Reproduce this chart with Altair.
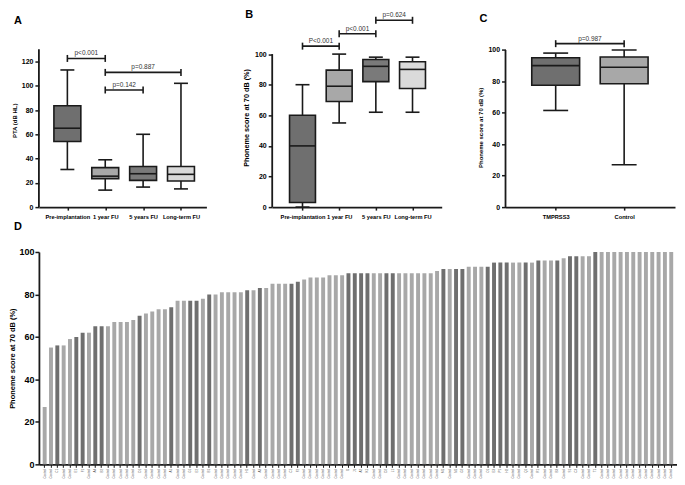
import altair as alt
import pandas as pd

FONT = "Liberation Sans"

# ---------------- Panel A : PTA (dB HL) ----------------
a_groups = ["Pre-implantation", "1 year FU", "5 years FU", "Long-term FU"]
a_min = [31, 14, 16.5, 15]
a_q1 = [54, 23.5, 22, 21.5]
a_med = [65, 25.5, 27.5, 27]
a_q3 = [83.5, 32.5, 33.5, 33.5]
a_max = [113, 39, 60, 102]
a_cmp_from = [0, 1, 1]
a_cmp_to = [1, 3, 2]
a_cmp_y = [122.5, 111, 96.5]
a_cmp_p = ["p<0.001", "p=0.887", "p=0.142"]

# ---------------- Panel B : phoneme score over time ----------------
b_groups = ["Pre-implantation", "1 year FU", "5 years FU", "Long-term FU"]
b_min = [0, 55, 62, 62]
b_q1 = [3, 69, 82, 77.5]
b_med = [40, 79, 92, 90]
b_q3 = [60, 89.5, 96.5, 95]
b_max = [80, 100, 98, 98]
b_cmp_from = [0, 1, 2]
b_cmp_to = [1, 2, 3]
b_cmp_y = [105.2, 113.3, 122.1]
b_cmp_p = ["P<0.001", "p<0.001", "p=0.624"]

# ---------------- Panel C : TMPRSS3 vs Control ----------------
c_groups = ["TMPRSS3", "Control"]
c_min = [61.5, 27]
c_q1 = [77.5, 78.5]
c_med = [90, 89]
c_q3 = [95, 95.5]
c_max = [98, 100]
c_cmp_from = [0]
c_cmp_to = [1]
c_cmp_y = [104]
c_cmp_p = ["p=0.987"]

# ---------------- Panel D : individual scores ----------------
d_values = [27, 55, 56, 56, 59, 60, 62, 62, 65, 65,
            65, 67, 67, 67, 68, 70, 71, 72, 73, 73,
            74, 77, 77, 77, 77, 78, 80, 80, 81, 81,
            81, 81, 82, 82, 83, 83, 85, 85, 85, 85,
            86, 87, 88, 88, 88, 89, 89, 89, 90, 90,
            90, 90, 90, 90, 90, 90, 90, 90, 90, 90,
            90, 90, 91, 92, 92, 92, 92, 93, 93, 93,
            93, 95, 95, 95, 95, 95, 95, 95, 96, 96,
            96, 96, 97, 98, 98, 98, 98, 100, 100, 100,
            100, 100, 100, 100, 100, 100, 100, 100, 100, 100]
d_group = list("CCTCCTTCTT"
               "CCCCCTCCCC"
               "TCCTTCTCCC"
               "CCTCTCCCCT"
               "TCCCCCCCTT"
               "TTCCTTCCCC"
               "CCCTCTTCCC"
               "TTTTCCTCTC"
               "CTCTTCCTCC"
               "CCCCCCCCCC")
d_ids = ["C1", "E1", "F1", "A4", "B2", "D1", "A1", "G1", "E2", "B1", "H1",
         "A3", "C2", "F2", "I1", "J1", "A2", "K1", "D2", "L1", "M1", "N1",
         "G2", "O1", "E3", "P1", "H2", "Q1", "R1", "B3", "S1", "C3", "T1"]

box_fills4 = ["#6f6f6f", "#a8a8a8", "#7a7a7a", "#dadada"]
box_fills2 = ["#6f6f6f", "#a8a8a8"]
INK = "#1a1a1a"


def box_panel(groups, mn, q1, med, q3, mx, fills, cf, ct, cy, cp,
              xdom, ydom, yticks, ytop, width, height, box_w, cap_w,
              ytitle, ytitle_size, ytitle_y, letter, letter_dx, letter_off):
    n = len(groups)
    df = pd.DataFrame({"pos": list(range(n)), "group": groups, "mn": mn,
                       "q1": q1, "med": med, "q3": q3, "mx": mx})
    cmp = pd.DataFrame({"a": cf, "b": ct, "y": cy, "p": cp})
    cmp["mid"] = (cmp["a"] + cmp["b"]) / 2
    axline = pd.DataFrame({"lo": [0], "hi": [ytop]})

    lab = "[" + ",".join("'" + g + "'" for g in groups) + "][datum.value]"
    xaxis = alt.Axis(values=list(range(n)), labelExpr=lab, title=None, grid=False,
                     labelFontSize=5.7, labelFontWeight="bold", labelPadding=3,
                     tickSize=3, labelOverlap=False, labelFlush=False)
    yaxis = alt.Axis(values=yticks, title=ytitle, grid=False, domain=False,
                     titleFontSize=ytitle_size, titleFontWeight="bold",
                     titleY=ytitle_y, titlePadding=4, labelFontSize=7,
                     labelFontWeight="bold", tickSize=4, labelOverlap=False,
                     labelPadding=2)
    xs = alt.Scale(domain=xdom, nice=False, zero=False)
    ys = alt.Scale(domain=ydom, nice=False)

    def X(f):
        return alt.X(f + ":Q", scale=xs, axis=xaxis)

    def Y(f):
        return alt.Y(f + ":Q", scale=ys, axis=yaxis)

    base = alt.Chart(df)
    whisk = base.mark_rule(color=INK, strokeWidth=1.6).encode(
        x=X("pos"), y=Y("mn"), y2="mx")
    cap_lo = base.mark_tick(orient="horizontal", size=cap_w, thickness=1.6,
                            color=INK, opacity=1).encode(x=X("pos"), y=Y("mn"))
    cap_hi = base.mark_tick(orient="horizontal", size=cap_w, thickness=1.6,
                            color=INK, opacity=1).encode(x=X("pos"), y=Y("mx"))
    box = base.mark_bar(size=box_w, stroke=INK, strokeWidth=1.6, opacity=1).encode(
        x=X("pos"), y=Y("q1"), y2="q3",
        color=alt.Color("group:N", scale=alt.Scale(domain=groups, range=fills),
                        legend=None))
    median = base.mark_tick(orient="horizontal", size=box_w, thickness=1.6,
                            color=INK, opacity=1).encode(x=X("pos"), y=Y("med"))

    cb = alt.Chart(cmp)
    br = cb.mark_rule(color=INK, strokeWidth=1.6).encode(x=X("a"), x2="b", y=Y("y"))
    br_a = cb.mark_tick(orient="vertical", size=7, thickness=1.6, color=INK,
                        opacity=1).encode(x=X("a"), y=Y("y"))
    br_b = cb.mark_tick(orient="vertical", size=7, thickness=1.6, color=INK,
                        opacity=1).encode(x=X("b"), y=Y("y"))
    ptxt = cb.mark_text(fontSize=6.5, font=FONT, color="#333333", dy=-2,
                        baseline="bottom").encode(x=X("mid"), y=Y("y"), text="p:N")

    yline = alt.Chart(axline).mark_rule(color=INK, strokeWidth=1.8).encode(
        x=alt.value(0), y=Y("lo"), y2="hi")

    return alt.layer(whisk, cap_lo, cap_hi, box, median, br, br_a, br_b, ptxt,
                     yline).properties(
        width=width, height=height,
        title=alt.TitleParams(letter, anchor="start", frame="group", dx=letter_dx,
                              offset=letter_off, fontSize=11, fontWeight="bold",
                              font=FONT))


H = 186
panel_a = box_panel(a_groups, a_min, a_q1, a_med, a_q3, a_max, box_fills4,
                    a_cmp_from, a_cmp_to, a_cmp_y, a_cmp_p,
                    [-0.62, 3.54], [0, 152.8], [0, 20, 40, 60, 80, 100, 120], 130,
                    168, H, 27, 14, "PTA (dB HL)", 6, 99, "A", -25, -4)
panel_b = box_panel(b_groups, b_min, b_q1, b_med, b_q3, b_max, box_fills4,
                    b_cmp_from, b_cmp_to, b_cmp_y, b_cmp_p,
                    [-0.69, 3.66], [0, 121.2], [0, 20, 40, 60, 80, 100], 100,
                    170, H, 26, 14, "Phoneme score at 70 dB (%)", 7.3, 96, "B", -27, -8)
panel_c = box_panel(c_groups, c_min, c_q1, c_med, c_q3, c_max, box_fills2,
                    c_cmp_from, c_cmp_to, c_cmp_y, c_cmp_p,
                    [-0.66, 1.67], [0, 118], [0, 20, 40, 60, 80, 100], 100,
                    170, H, 48, 25, "Phoneme score at 70 dB (%)", 6, 106, "C", -26, -2)

# ---- panel D ----
labels = []
k = 0
for g in d_group:
    if g == "T":
        labels.append(d_ids[k])
        k += 1
    else:
        labels.append("Control")
dd = pd.DataFrame({"idx": list(range(len(d_values))), "val": d_values,
                   "grp": ["TMPRSS3" if g == "T" else "Control" for g in d_group]})
dlab = "[" + ",".join("'" + s + "'" for s in labels) + "][datum.value]"

panel_d = alt.Chart(dd).mark_bar(opacity=1).encode(
    x=alt.X("idx:O", sort=None,
            scale=alt.Scale(paddingInner=0.38, paddingOuter=0.6),
            axis=alt.Axis(title=None, labelExpr=dlab, labelAngle=-90,
                          labelFontSize=3, labelColor="#555555",
                          labelFontWeight="normal", tickSize=3, tickWidth=1,
                          labelPadding=1, labelOverlap=False)),
    y=alt.Y("val:Q", scale=alt.Scale(domain=[0, 100], nice=False),
            axis=alt.Axis(values=[0, 20, 40, 60, 80, 100], grid=False,
                          title="Phoneme score at 70 dB (%)", titleFontSize=7.5,
                          titleFontWeight="bold", labelFontSize=9,
                          labelFontWeight="bold", tickSize=4, titlePadding=2,
                          labelPadding=1)),
    color=alt.Color("grp:N", scale=alt.Scale(domain=["Control", "TMPRSS3"],
                                             range=["#a0a0a0", "#000000"]),
                    legend=None),
).properties(width=640, height=213,
             title=alt.TitleParams("D", anchor="start", frame="group", dx=-25,
                                   offset=16, fontSize=11, fontWeight="bold",
                                   font=FONT))

top = alt.hconcat(panel_a, panel_b, panel_c, spacing=36)
chart = alt.vconcat(top, panel_d, spacing=2).properties(padding=0).configure_view(
    stroke=None
).configure_axis(
    labelFont=FONT, titleFont=FONT, labelColor="#000000", titleColor="#000000",
    domainColor=INK, domainWidth=1.8, tickColor=INK, tickWidth=1.5
).configure_text(font=FONT)

chart.save("out.html", embed_options={"renderer": "svg", "actions": False})
